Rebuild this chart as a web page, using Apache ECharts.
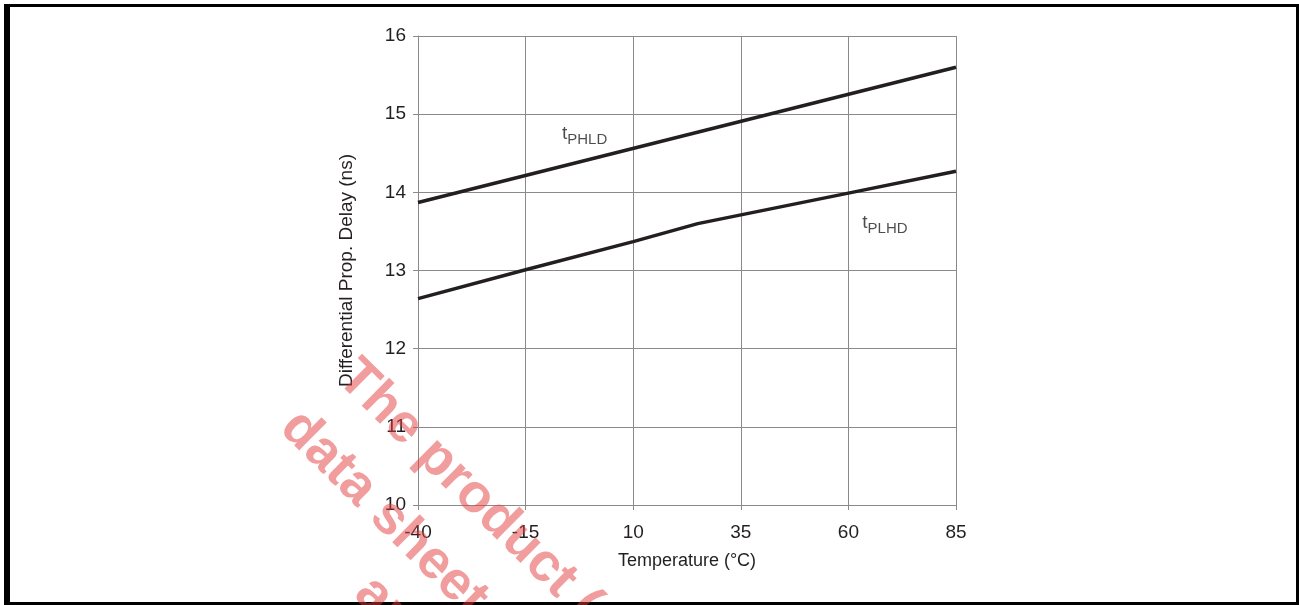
<!DOCTYPE html>
<html><head><meta charset="utf-8">
<script src="https://cdn.jsdelivr.net/npm/echarts@6/dist/echarts.min.js"></script>
<style>html,body{margin:0;padding:0;background:#fff}#c{width:1299px;height:605px}</style>
</head><body><div id="c"></div>
<script>
// Data
const xMin = -40, xMax = 85, xStep = 25;
const yMin = 10, yMax = 16, yStep = 1;
const tempPHLD = [-40, 85];
const valPHLD = [13.87, 15.60];
const tempPLHD = [-40, -15, 10, 25, 60, 85];
const valPLHD = [12.64, 13.01, 13.37, 13.60, 13.99, 14.27];
const xAxisTitle = 'Temperature (\u00B0C)';
const yAxisTitle = 'Differential Prop. Delay (ns)';
const labelPHLD = {t: 't', sub: 'PHLD', at: [-1.3, 14.75]};
const labelPLHD = {t: 't', sub: 'PLHD', at: [68.5, 13.62]};
const watermark = ['The product (s)', 'data sheet a', 'are'];

const chart = echarts.init(document.getElementById('c'));
const toPts = (xs, ys) => xs.map((x, i) => [x - xMin, ys[i]]);
const font = '"Liberation Sans", Arial, sans-serif';
const lineStyle = {color: '#231f20', width: 3.5};
const richLbl = {
  t: {fontSize: 19, fontFamily: font, color: '#231f20', verticalAlign: 'bottom', lineHeight: 20},
  s: {fontSize: 15, fontFamily: font, color: '#231f20', verticalAlign: 'bottom', lineHeight: 14, padding: [0,0,-4,0]}
};
function lbl(o) {
  return {
    type: 'scatter', symbolSize: 0, silent: true,
    data: [[o.at[0] - xMin, o.at[1]]],
    label: {show: true, position: 'inside', formatter: '{t|' + o.t + '}{s|' + o.sub + '}', rich: richLbl}
  };
}
const wmStyle = (text) => ({text: text, font: 'bold 54px "Liberation Sans", Arial, sans-serif', fill: 'rgba(228,60,60,0.5)', textVerticalAlign: 'top'});
chart.setOption({
  animation: false,
  backgroundColor: '#fff',
  grid: {left: 418, right: 343, top: 36, bottom: 100},
  xAxis: {
    type: 'value', min: 0, max: xMax - xMin, interval: xStep,
    axisLine: {show: true, lineStyle: {color: '#8a8a8a', width: 1}},
    axisTick: {show: true, length: 5, lineStyle: {color: '#8a8a8a'}},
    splitLine: {show: true, lineStyle: {color: '#8a8a8a', width: 1}},
    axisLabel: {formatter: v => String(v + xMin), color: '#231f20', fontSize: 19, fontFamily: font, margin: 18},
    name: xAxisTitle, nameLocation: 'middle', nameGap: 47,
    nameTextStyle: {color: '#231f20', fontSize: 18, fontFamily: font}
  },
  yAxis: {
    type: 'value', min: yMin, max: yMax, interval: yStep,
    axisLine: {show: true, lineStyle: {color: '#8a8a8a', width: 1}},
    axisTick: {show: true, length: 5, lineStyle: {color: '#8a8a8a'}},
    splitLine: {show: true, lineStyle: {color: '#8a8a8a', width: 1}},
    axisLabel: {color: '#231f20', fontSize: 19, fontFamily: font, margin: 12},
    name: yAxisTitle, nameLocation: 'middle', nameGap: 62, nameRotate: 90,
    nameTextStyle: {color: '#231f20', fontSize: 19, fontFamily: font}
  },
  series: [
    {type: 'line', data: toPts(tempPHLD, valPHLD), showSymbol: false, lineStyle: lineStyle, z: 5},
    {type: 'line', data: toPts(tempPLHD, valPLHD), showSymbol: false, lineStyle: lineStyle, z: 5},
    lbl(labelPHLD), lbl(labelPLHD)
  ],
  graphic: [
    {type: 'rect', shape: {x: 4, y: 4, width: 6, height: 601}, style: {fill: '#000'}},
    {type: 'rect', shape: {x: 4, y: 4, width: 1295, height: 3}, style: {fill: '#000'}},
    {type: 'rect', shape: {x: 1296, y: 4, width: 3, height: 601}, style: {fill: '#000'}},
    {type: 'rect', shape: {x: 4, y: 602, width: 1295, height: 3}, style: {fill: '#000'}},
    {type: 'text', x: 365, y: 350, rotation: -0.78, z: 100, style: wmStyle(watermark[0])},
    {type: 'text', x: 308, y: 400, rotation: -0.78, z: 100, style: wmStyle(watermark[1])},
    {type: 'text', x: 382, y: 566, rotation: -0.78, z: 100, style: wmStyle(watermark[2])}
  ]
});
</script></body></html>
